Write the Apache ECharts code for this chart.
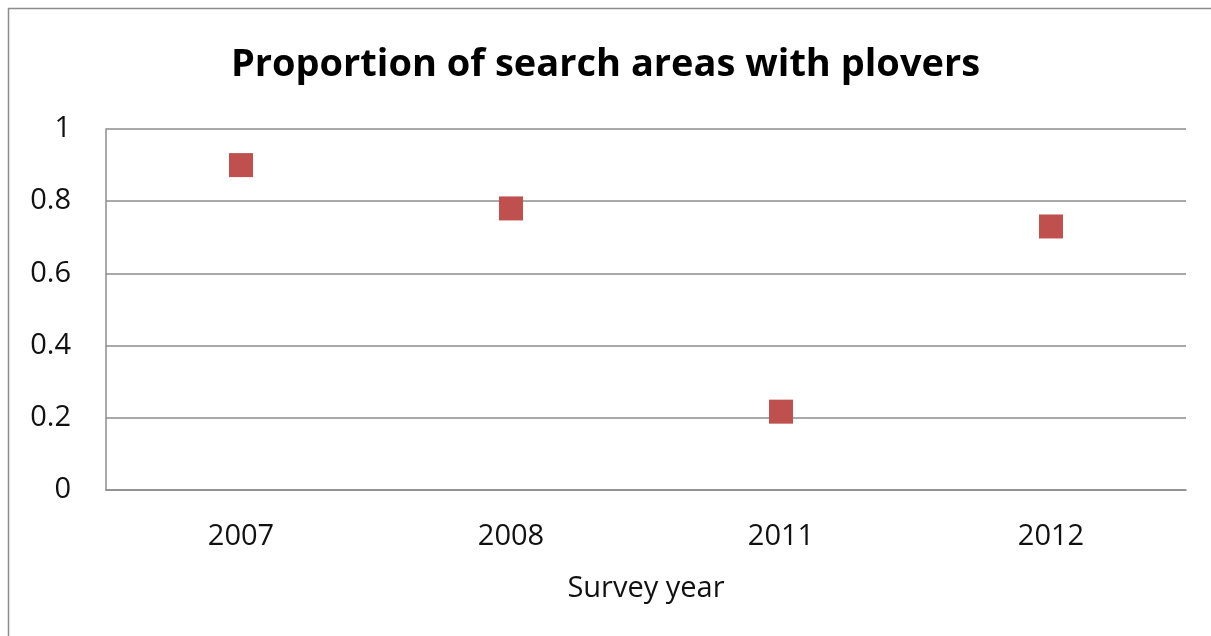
<!DOCTYPE html>
<html>
<head>
<meta charset="utf-8">
<script src="https://cdn.jsdelivr.net/npm/echarts@6/dist/echarts.min.js"></script>
<style>
  html, body { margin: 0; padding: 0; background: #fff; }
  #main { width: 1211px; height: 636px; }
</style>
</head>
<body>
<div id="main"></div>
<script>
var years = ['2007', '2008', '2011', '2012'];
var proportions = [0.9, 0.78, 0.217, 0.73];
var yTicks = { min: 0, max: 1, interval: 0.2 };

var myChart = echarts.init(document.getElementById('main'));
var font = '"Open Sans", sans-serif';

myChart.setOption({
  animation: false,
  title: {
    text: 'Proportion of search areas with plovers',
    left: 'center',
    top: 41,
    textStyle: { fontFamily: font, fontSize: 38, fontWeight: 'bold', color: '#000' }
  },
  // outer chart frame
  graphic: [{
    type: 'rect',
    shape: { x: 8.5, y: 8.5, width: 1210, height: 700 },
    style: { fill: 'none', stroke: '#8c8c8c', lineWidth: 1.5 },
    silent: true
  }],
  grid: { left: 106, right: 25, top: 129, bottom: 146 },
  xAxis: {
    type: 'category',
    data: years,
    name: 'Survey year',
    nameLocation: 'middle',
    nameGap: 84,
    nameTextStyle: { fontFamily: font, fontSize: 29, color: '#111' },
    axisLine: { lineStyle: { color: '#8c8c8c', width: 1.5 } },
    axisTick: { show: false },
    axisLabel: { fontFamily: font, fontSize: 29, color: '#111', margin: 32 }
  },
  yAxis: {
    type: 'value',
    min: yTicks.min,
    max: yTicks.max,
    interval: yTicks.interval,
    axisLine: { show: true, lineStyle: { color: '#8c8c8c', width: 1.5 } },
    axisTick: { show: false },
    splitLine: { lineStyle: { color: '#8c8c8c', width: 1.5 } },
    axisLabel: { fontFamily: font, fontSize: 29, color: '#111', margin: 35 }
  },
  series: [{
    type: 'scatter',
    data: proportions,
    symbol: 'rect',
    symbolSize: 24,
    itemStyle: { color: '#C0504D', opacity: 1 }
  }]
});
</script>
</body>
</html>
